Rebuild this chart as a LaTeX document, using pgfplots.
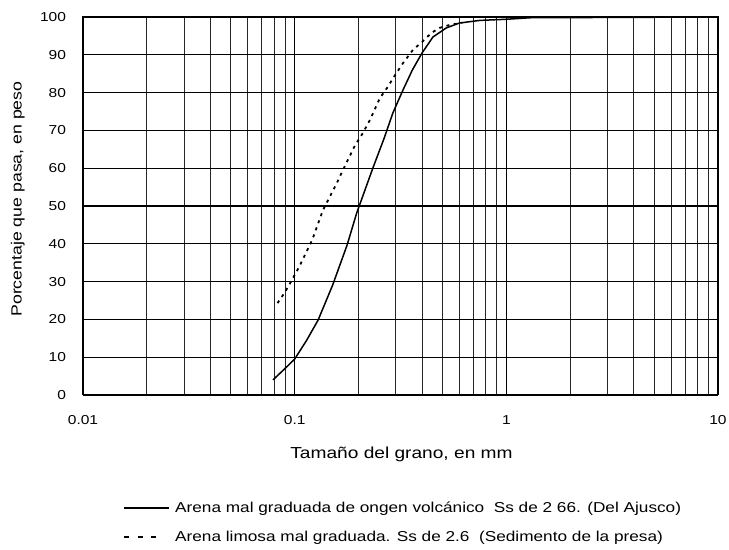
\documentclass[border=0pt]{standalone}
\usepackage{fontspec}
\setmainfont{Liberation Sans}[FakeStretch=1.2]
\usepackage{pgfplots}
\pgfplotsset{compat=1.18}
\begin{document}
\begin{tikzpicture}
\path[use as bounding box] (0bp,0bp) rectangle (729bp,550bp);
\begin{axis}[
  at={(83bp,155bp)}, anchor=south west,
  scale only axis, width=635bp, height=378bp,
  xmode=log, log basis x=10,
  xmin=0.01, xmax=10, ymin=0, ymax=100,
  xtick={0.01,0.1,1,10}, xticklabels={0.01,0.1,1,10},
  minor xtick={0.02,0.03,0.04,0.05,0.06,0.07,0.08,0.09,0.2,0.3,0.4,0.5,0.6,0.7,0.8,0.9,2,3,4,5,6,7,8,9},
  ytick={0,10,20,30,40,50,60,70,80,90,100},
  /pgf/number format/assume math mode=true,
  grid=both,
  major grid style={black, line width=1.1bp},
  minor grid style={black!85, line width=0.9bp},
  axis line style={black, line width=1bp},
  major tick length=0bp, minor tick length=0bp,
  ticklabel style={font=\fontsize{13}{15}\selectfont},
  xticklabel style={yshift=-17bp},
  yticklabel style={xshift=-13.5bp},
  xlabel={Tamaño del grano, en mm},
  ylabel={Porcentaje que pasa, en peso},
  xlabel style={at={(axis description cs:0.5016,-0.1667)}, anchor=base, font=\fontsize{16}{18}\selectfont},
  ylabel style={at={(axis description cs:-0.0965,0.5185)}, anchor=base, font=\fontsize{14.8}{17}\selectfont},
  legend image code/.code={\draw[#1] (0bp,0bp) -- (45bp,0bp);},
  legend cell align=left,
  legend style={at={(axis description cs:0.063,-0.2817)}, anchor=north west,
    draw=none, fill=none, inner sep=0bp, row sep=17bp, column sep=5bp,
    nodes={inner sep=0bp}, font=\fontsize{14.4}{17}\selectfont},
]
\addplot[black, line width=1.5bp,
  legend image post style={line width=2bp}] coordinates {
(0.079,4) (0.09,7) (0.1,9.5) (0.114,14.5) (0.129,19.8) (0.151,29) (0.177,39.7)
(0.196,48) (0.234,60) (0.265,68) (0.291,74.6) (0.325,80.7) (0.36,86) (0.40,90.5)
(0.45,94.7) (0.52,97.1) (0.60,98.4) (0.75,99.1) (1.0,99.4) (1.3,99.8) (10,100)
};
\addlegendentry{Arena mal graduada de ongen volcánico\ \ Ss de 2 66. (Del Ajusco)}
\addplot[black, line width=1.8bp, dash pattern=on 3bp off 4.5bp,
  legend image post style={line width=1.8bp, dash pattern=on 5bp off 8.5bp, shorten >=13bp}] coordinates {
(0.083,24.3) (0.090,27.2) (0.097,30.4) (0.105,33.9) (0.121,41) (0.136,48.9)
(0.158,56) (0.169,59.5) (0.193,66.1) (0.210,69.3) (0.227,72.8) (0.253,78.6)
(0.273,81.2) (0.294,84.1) (0.325,87.8) (0.362,91.3) (0.40,93.4) (0.443,95.8)
(0.483,97.1) (0.54,97.9) (0.62,98.5)
};
\addlegendentry{Arena limosa mal graduada. Ss de 2.6\ \ (Sedimento de la presa)}
\end{axis}
\end{tikzpicture}
\end{document}
